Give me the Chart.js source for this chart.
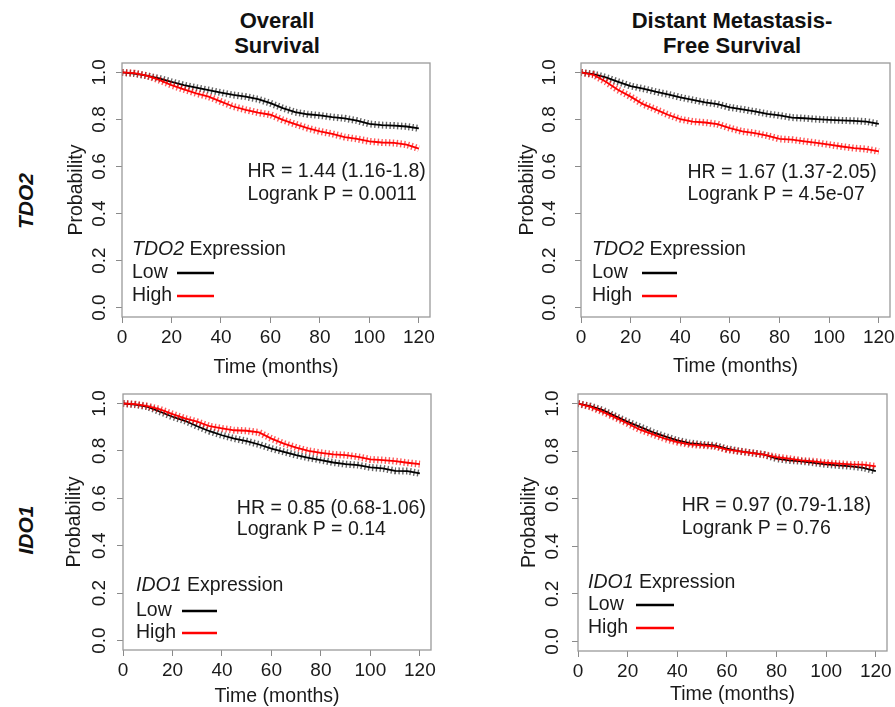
<!DOCTYPE html>
<html>
<head>
<meta charset="utf-8">
<script src="https://cdn.jsdelivr.net/npm/chart.js@4.4.1/dist/chart.umd.min.js"></script>
<style>
    html, body { margin: 0; padding: 0; background: #fff; overflow: hidden; }
    body { width: 895px; height: 707px; position: relative; font-family: "Liberation Sans", Arial, sans-serif; color: #111; }
    canvas { position: absolute; }
    .col-title { position: absolute; width: 300px; text-align: center; font-weight: bold; font-size: 22px; line-height: 25px; }
    .row-title { position: absolute; font-weight: bold; font-style: italic; font-size: 21px; white-space: nowrap; transform: translate(-50%, -50%) rotate(-90deg); }
</style>
</head>
<body>
<div class="col-title" style="left:127px; top:8px;">Overall<br>Survival</div>
<div class="col-title" style="left:582px; top:8px;">Distant Metastasis-<br>Free Survival</div>
<div class="row-title" style="left:26px; top:201px;">TDO2</div>
<div class="row-title" style="left:26px; top:530px;">IDO1</div>
<canvas id="c1"></canvas>
<canvas id="c2"></canvas>
<canvas id="c3"></canvas>
<canvas id="c4"></canvas>
<script>
// months at which the survival curves were read
const months = [0, 5, 10, 15, 20, 25, 30, 35, 40, 45, 50, 55, 60, 65, 70, 75, 80, 85, 90, 95, 100, 105, 110, 115, 120];
const xTicks = [0, 20, 40, 60, 80, 100, 120];
const xTickLabels = ['0', '20', '40', '60', '80', '100', '120'];
const yTicks = [0, 0.2, 0.4, 0.6, 0.8, 1.0];
const yTickLabels = ['0.0', '0.2', '0.4', '0.6', '0.8', '1.0'];

// TDO2, overall survival
const tdo2OsLow = [1.0, 0.995, 0.986, 0.975, 0.96, 0.946, 0.935, 0.925, 0.914, 0.904, 0.897, 0.886, 0.869, 0.848, 0.831, 0.822, 0.817, 0.81, 0.805, 0.795, 0.781, 0.776, 0.774, 0.77, 0.762];
const tdo2OsHigh = [1.0, 0.997, 0.986, 0.968, 0.946, 0.928, 0.911, 0.897, 0.876, 0.855, 0.841, 0.829, 0.82, 0.798, 0.78, 0.763, 0.749, 0.739, 0.725, 0.717, 0.707, 0.702, 0.7, 0.693, 0.676];
// TDO2, distant metastasis-free survival
const tdo2DmfsLow = [1.0, 0.993, 0.979, 0.96, 0.942, 0.931, 0.918, 0.907, 0.894, 0.883, 0.873, 0.865, 0.851, 0.843, 0.834, 0.824, 0.817, 0.808, 0.805, 0.801, 0.798, 0.796, 0.794, 0.791, 0.781];
const tdo2DmfsHigh = [1.0, 0.99, 0.96, 0.925, 0.897, 0.865, 0.843, 0.82, 0.801, 0.791, 0.787, 0.78, 0.763, 0.749, 0.742, 0.731, 0.717, 0.714, 0.707, 0.7, 0.693, 0.685, 0.678, 0.674, 0.664];
// IDO1, overall survival
const ido1OsLow = [1.0, 0.995, 0.986, 0.965, 0.944, 0.927, 0.904, 0.883, 0.866, 0.852, 0.841, 0.827, 0.81, 0.796, 0.782, 0.771, 0.761, 0.751, 0.744, 0.74, 0.73, 0.726, 0.716, 0.715, 0.705];
const ido1OsHigh = [1.0, 0.997, 0.989, 0.975, 0.955, 0.937, 0.923, 0.904, 0.895, 0.887, 0.885, 0.878, 0.852, 0.831, 0.814, 0.8, 0.792, 0.785, 0.782, 0.775, 0.764, 0.761, 0.757, 0.75, 0.744];
// IDO1, distant metastasis-free survival
const ido1DmfsLow = [1.0, 0.989, 0.972, 0.947, 0.923, 0.902, 0.88, 0.862, 0.845, 0.834, 0.828, 0.824, 0.81, 0.8, 0.793, 0.785, 0.768, 0.761, 0.757, 0.751, 0.744, 0.74, 0.736, 0.73, 0.716];
const ido1DmfsHigh = [1.0, 0.986, 0.965, 0.941, 0.916, 0.89, 0.871, 0.852, 0.838, 0.828, 0.824, 0.82, 0.806, 0.799, 0.792, 0.785, 0.775, 0.768, 0.761, 0.757, 0.751, 0.747, 0.744, 0.743, 0.736];

const hrTexts = ['HR = 1.44 (1.16-1.8)', 'HR = 1.67 (1.37-2.05)', 'HR = 0.85 (0.68-1.06)', 'HR = 0.97 (0.79-1.18)'];
const pTexts = ['Logrank P = 0.0011', 'Logrank P = 4.5e-07', 'Logrank P = 0.14', 'Logrank P = 0.76'];
const genes = ['TDO2', 'TDO2', 'IDO1', 'IDO1'];

const FONT = '"Liberation Sans", Arial, sans-serif';

// box = plot frame in page pixels [left, top, right, bottom]
const panels = [
    { id: 'c1', low: tdo2OsLow, high: tdo2OsHigh, box: [122, 63, 430, 317], yLab: 22, yTitle: 45, timeDy: 51,
      statX: 50.7, statY: [0.578, 0.482], leg: { x: 10, y: [187, 210, 233], line: [55, 92] } },
    { id: 'c2', low: tdo2DmfsLow, high: tdo2DmfsHigh, box: [581, 63, 890, 317], yLab: 31, yTitle: 53, timeDy: 50,
      statX: 42.9, statY: [0.574, 0.479], leg: { x: 11, y: [187, 210, 233], line: [61, 96] } },
    { id: 'c3', low: ido1OsLow, high: ido1OsHigh, box: [123, 394, 431, 650], yLab: 23, yTitle: 48, timeDy: 47,
      statX: 46.0, statY: [0.558, 0.467], leg: { x: 13, y: [192, 217, 239], line: [59, 94] } },
    { id: 'c4', low: ido1DmfsLow, high: ido1DmfsHigh, box: [578, 394, 887, 651], yLab: 25, yTitle: 48, timeDy: 44,
      statX: 41.8, statY: [0.572, 0.474], leg: { x: 10, y: [189, 211, 234], line: [58, 96] } }
];

function points(vals) {
    return months.map((m, i) => ({ x: m, y: vals[i] }));
}

function curve(vals, color) {
    return { data: points(vals), borderColor: color, borderWidth: 1.8, pointRadius: 0, tension: 0 };
}

// thick dashed copy of the curve gives the row of censor ticks
function censor(vals, color) {
    return { data: points(vals), borderColor: color, borderWidth: 7, borderDash: [1.4, 2.4], pointRadius: 0, tension: 0 };
}

function panelText(p, idx) {
    return {
        id: 'panelText' + idx,
        afterDraw(chart) {
            const ctx = chart.ctx, a = chart.chartArea;
            const xs = chart.scales.x, ys = chart.scales.y;
            ctx.save();
            ctx.strokeStyle = '#9a9a9a';
            ctx.lineWidth = 1.3;
            ctx.strokeRect(a.left, a.top, a.right - a.left, a.bottom - a.top);

            ctx.fillStyle = '#1a1a1a';
            ctx.textAlign = 'center';
            ctx.textBaseline = 'middle';
            ctx.font = '19px ' + FONT;
            xTicks.forEach((v, i) => ctx.fillText(xTickLabels[i], xs.getPixelForValue(v), a.bottom + 20.5));
            yTicks.forEach((v, i) => {
                ctx.save();
                ctx.translate(a.left - p.yLab, ys.getPixelForValue(v));
                ctx.rotate(-Math.PI / 2);
                ctx.fillText(yTickLabels[i], 0, 0);
                ctx.restore();
            });

            ctx.font = '19.5px ' + FONT;
            ctx.fillText('Time (months)', (a.left + a.right) / 2, a.bottom + p.timeDy);
            ctx.save();
            ctx.translate(a.left - p.yTitle, (a.top + a.bottom) / 2);
            ctx.rotate(-Math.PI / 2);
            ctx.fillText('Probability', 0, 0);
            ctx.restore();

            // hazard ratio and p value
            ctx.textAlign = 'left';
            const sx = xs.getPixelForValue(p.statX);
            ctx.fillText(hrTexts[idx], sx, ys.getPixelForValue(p.statY[0]));
            ctx.fillText(pTexts[idx], sx, ys.getPixelForValue(p.statY[1]));

            // legend
            const lx = a.left + p.leg.x;
            ctx.font = 'italic 19.5px ' + FONT;
            ctx.fillText(genes[idx], lx, a.top + p.leg.y[0]);
            const gw = ctx.measureText(genes[idx]).width;
            ctx.font = '19.5px ' + FONT;
            ctx.fillText(' Expression', lx + gw, a.top + p.leg.y[0]);
            ctx.fillText('Low', lx, a.top + p.leg.y[1]);
            ctx.fillText('High', lx, a.top + p.leg.y[2]);
            ctx.lineWidth = 2.6;
            ctx.strokeStyle = '#000';
            ctx.beginPath();
            ctx.moveTo(a.left + p.leg.line[0], a.top + p.leg.y[1]);
            ctx.lineTo(a.left + p.leg.line[1], a.top + p.leg.y[1]);
            ctx.stroke();
            ctx.strokeStyle = '#ff0000';
            ctx.beginPath();
            ctx.moveTo(a.left + p.leg.line[0], a.top + p.leg.y[2]);
            ctx.lineTo(a.left + p.leg.line[1], a.top + p.leg.y[2]);
            ctx.stroke();
            ctx.restore();
        }
    };
}

const ML = 70, MT = 6, MR = 5, MB = 70;

panels.forEach((p, idx) => {
    const [l, t, r, b] = p.box;
    const cv = document.getElementById(p.id);
    const w = r - l + ML + MR, h = b - t + MT + MB;
    cv.width = w;
    cv.height = h;
    cv.style.left = (l - ML) + 'px';
    cv.style.top = (t - MT) + 'px';
    cv.style.width = w + 'px';
    cv.style.height = h + 'px';

    new Chart(cv, {
        type: 'line',
        data: {
            datasets: [
                curve(p.high, '#ff0000'),
                censor(p.high, 'rgba(255,0,0,0.65)'),
                curve(p.low, '#000000'),
                censor(p.low, 'rgba(0,0,0,0.6)')
            ]
        },
        options: {
            responsive: false,
            animation: false,
            devicePixelRatio: 1,
            layout: { padding: { left: 0, top: MT, right: MR, bottom: 0 }, autoPadding: false },
            plugins: { legend: { display: false }, tooltip: { enabled: false } },
            scales: {
                x: {
                    type: 'linear', min: 0, max: 124.5,
                    afterBuildTicks: s => { s.ticks = xTicks.map(v => ({ value: v })); },
                    afterFit: s => { s.height = MB; },
                    ticks: { display: false },
                    border: { display: false },
                    grid: { drawOnChartArea: false, drawTicks: true, tickLength: 6, color: '#8a8a8a' }
                },
                y: {
                    type: 'linear', min: -0.04, max: 1.04,
                    afterBuildTicks: s => { s.ticks = yTicks.map(v => ({ value: v })); },
                    afterFit: s => { s.width = ML; },
                    ticks: { display: false },
                    border: { display: false },
                    grid: { drawOnChartArea: false, drawTicks: true, tickLength: 6, color: '#8a8a8a' }
                }
            }
        },
        plugins: [panelText(p, idx)]
    });
});
</script>
</body>
</html>
